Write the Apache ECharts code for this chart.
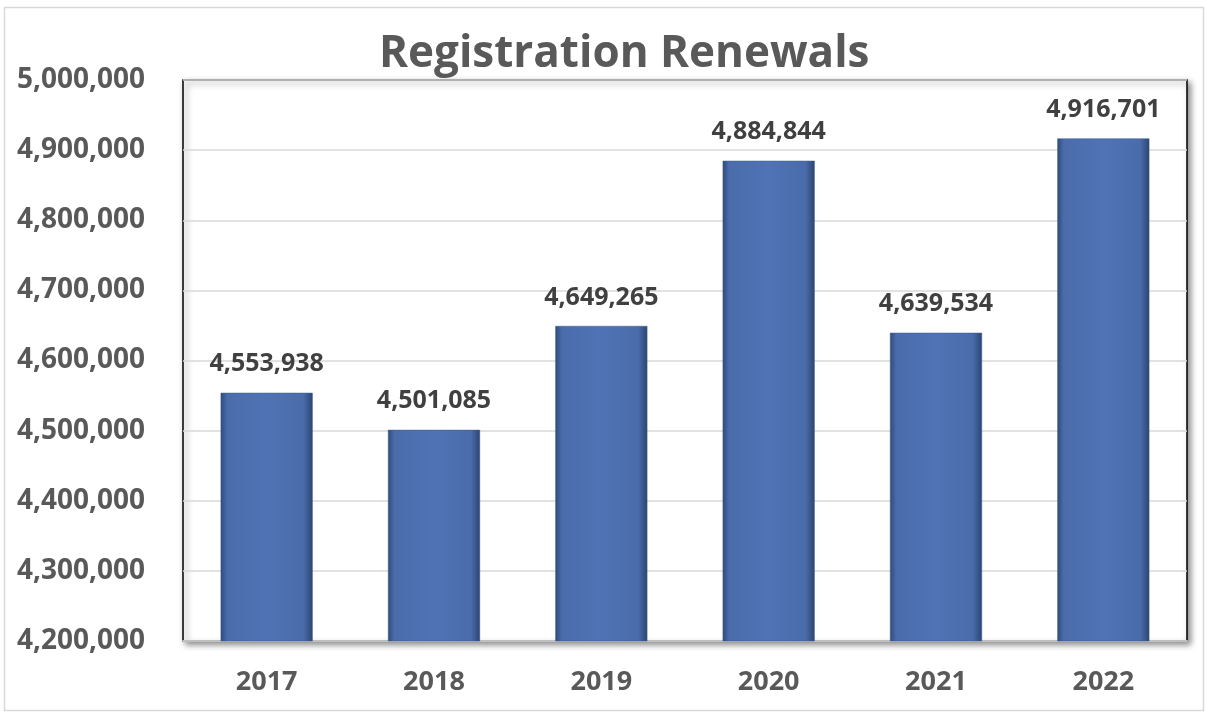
<!DOCTYPE html>
<html>
<head>
<meta charset="utf-8">
<title>Registration Renewals</title>
<script src="https://cdn.jsdelivr.net/npm/echarts@6/dist/echarts.min.js"></script>
<style>
  html, body { margin: 0; padding: 0; background: #fff; }
  #chart { width: 1207px; height: 713px; }
</style>
</head>
<body>
<div id="chart"></div>
<script>
// Yearly registration renewals
const years = ['2017', '2018', '2019', '2020', '2021', '2022'];
const renewals = [4553938, 4501085, 4649265, 4884844, 4639534, 4916701];

const axisMin = 4200000;
const axisMax = 5000000;
const axisStep = 100000;

const textColor = '#595959';
const fontFamily = '"Open Sans", "Noto Sans", sans-serif';
const fmt = v => Number(v).toLocaleString('en-US');

const chart = echarts.init(document.getElementById('chart'), null, { renderer: 'canvas' });

// Bar fill: blue body with darkened side edges (inner-shadow look)
const barFill = new echarts.graphic.LinearGradient(0, 0, 1, 0, [
  { offset: 0, color: '#2f4a7a' },
  { offset: 0.07, color: '#4a6cab' },
  { offset: 0.5, color: '#5073b5' },
  { offset: 0.9, color: '#4a6caa' },
  { offset: 1, color: '#2c4570' }
]);

chart.setOption({
  backgroundColor: '#ffffff',
  animation: false,
  textStyle: { fontFamily: fontFamily },
  title: {
    text: 'Registration Renewals',
    left: 374,
    top: 27,
    textStyle: { color: textColor, fontSize: 44, fontWeight: 'bold', fontFamily: fontFamily }
  },
  graphic: [{
    type: 'rect',
    z: -10,
    silent: true,
    shape: { x: 4.5, y: 7.5, width: 1199, height: 703 },
    style: { fill: 'none', stroke: '#d9d9d9', lineWidth: 1.5 }
  }],
  grid: {
    show: true,
    left: 183,
    top: 80,
    right: 20,
    bottom: 72,
    backgroundColor: '#ffffff',
    borderColor: '#000000',
    borderWidth: 1.5,
    shadowColor: 'rgba(0,0,0,0.45)',
    shadowBlur: 6,
    shadowOffsetX: 3,
    shadowOffsetY: 3
  },
  xAxis: {
    type: 'category',
    data: years,
    axisTick: { show: false },
    axisLine: { show: true, lineStyle: { color: '#bfbfbf', width: 2 } },
    axisLabel: {
      color: textColor,
      fontSize: 27,
      fontWeight: 'bold',
      fontFamily: fontFamily,
      margin: 28
    }
  },
  yAxis: {
    type: 'value',
    min: axisMin,
    max: axisMax,
    interval: axisStep,
    axisLine: { show: false },
    axisTick: { show: false },
    splitLine: { show: true, lineStyle: { color: '#d9d9d9', width: 1.5 } },
    axisLabel: {
      color: textColor,
      fontSize: 28,
      fontWeight: 'bold',
      fontFamily: fontFamily,
      margin: 38,
      formatter: v => fmt(v)
    }
  },
  series: [{
    type: 'bar',
    data: renewals,
    barWidth: '55%',
    itemStyle: {
      color: barFill,
      borderColor: '#3d5d96',
      borderWidth: 0.5
    },
    label: {
      show: true,
      position: 'top',
      distance: 16,
      color: '#404040',
      fontSize: 25,
      fontWeight: 'bold',
      fontFamily: fontFamily,
      formatter: p => fmt(p.value)
    }
  }]
});
</script>
</body>
</html>
